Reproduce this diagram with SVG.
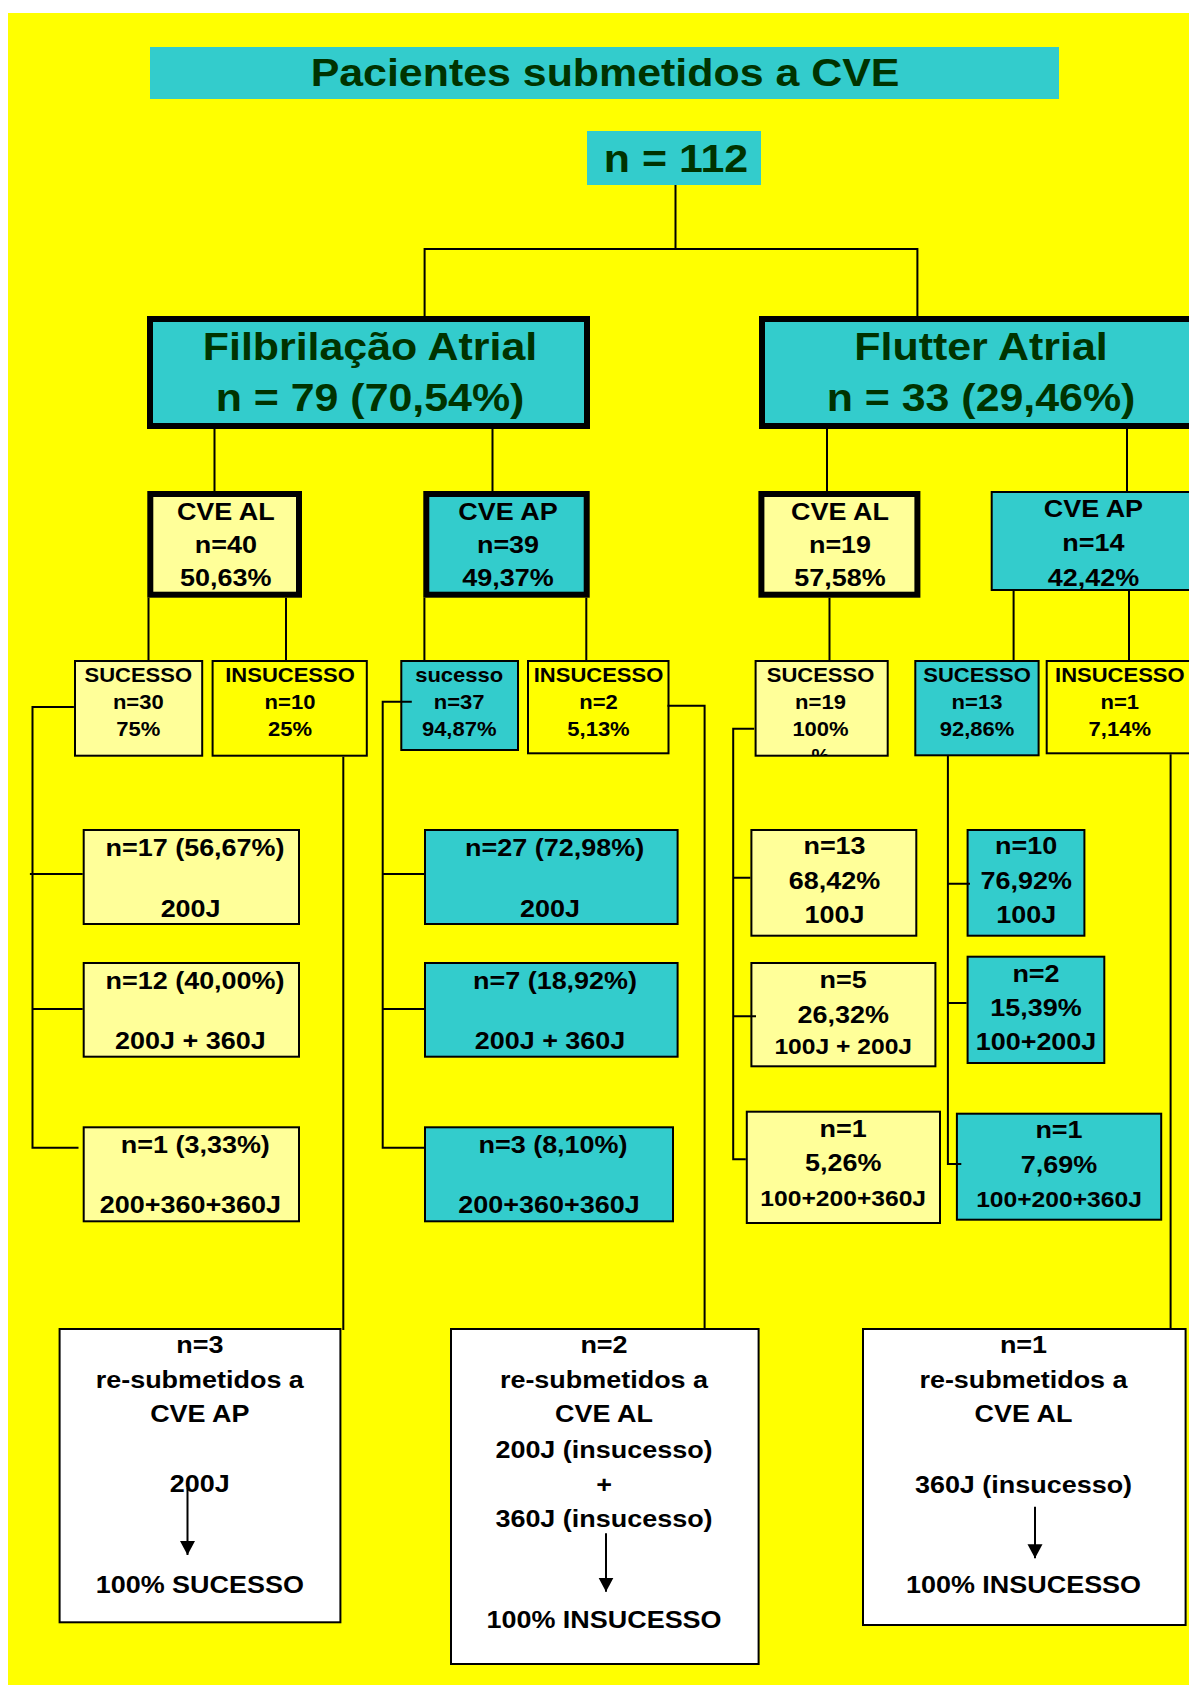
<svg xmlns="http://www.w3.org/2000/svg" width="1189" height="1685" viewBox="0 0 1189 1685">
<style>
.t{font-family:"Liberation Sans",Arial,sans-serif;font-weight:bold;text-anchor:middle;fill:#000}
.g{fill:#003300}
.s39{font-size:39px}.s245{font-size:24.5px}.s20{font-size:20px}.s22{font-size:22.4px}
.box{stroke:#000;stroke-width:2}
.thick{stroke:#000;stroke-width:6}
.tq{fill:#33CCCC}.ly{fill:#FFFF99}.yb{fill:#FFFF00}.wb{fill:#FFFFFF}
.c{fill:none;stroke:#000;stroke-width:2}
</style>
<defs>
<marker id="ah" markerUnits="userSpaceOnUse" markerWidth="16" markerHeight="16" refX="14" refY="7.5" orient="auto">
<path d="M0,0 L14,7.5 L0,15 z" fill="#000"/>
</marker>
<clipPath id="clipSuc"><rect x="756" y="662" width="131" height="93"/></clipPath>
</defs>
<rect x="0" y="0" width="1189" height="1685" fill="#FFFFFF"/>
<rect x="8" y="13" width="1181" height="1672" fill="#FFFF00"/>

<g id="title">
<rect x="150" y="47" width="909" height="52" class="tq"/>
<text class="t g s39" transform="translate(605 0) scale(1.1 1)" x="0" y="86">Pacientes submetidos a CVE</text>
</g>
<g id="n112">
<rect x="587" y="131" width="174" height="54" class="tq"/>
<text class="t g s39" transform="translate(676 0) scale(1.1 1)" x="0" y="172">n = 112</text>
</g>

<g id="fa">
<rect x="150" y="319" width="437" height="107" class="tq thick"/>
<text class="t g s39" transform="translate(370 0) scale(1.1 1)"><tspan x="0" y="360">Filbrilação Atrial</tspan><tspan x="0" y="411">n = 79 (70,54%)</tspan></text>
</g>
<g id="fl">
<rect x="762" y="319" width="450" height="107" class="tq thick"/>
<text class="t g s39" transform="translate(981 0) scale(1.1 1)"><tspan x="0" y="360">Flutter Atrial</tspan><tspan x="0" y="411">n = 33 (29,46%)</tspan></text>
</g>

<g id="fa-al">
<rect x="150.3" y="494" width="148.7" height="100.7" class="ly thick"/>
<text class="t s245" transform="translate(225.8 0) scale(1.1 1)"><tspan x="0" y="520">CVE AL</tspan><tspan x="0" y="553">n=40</tspan><tspan x="0" y="585.7">50,63%</tspan></text>
</g>
<g id="fa-ap">
<rect x="426.3" y="494" width="160.4" height="100.7" class="tq thick"/>
<text class="t s245" transform="translate(508 0) scale(1.1 1)"><tspan x="0" y="520">CVE AP</tspan><tspan x="0" y="553">n=39</tspan><tspan x="0" y="585.7">49,37%</tspan></text>
</g>
<g id="fl-al">
<rect x="761.4" y="494" width="156" height="100.7" class="ly thick"/>
<text class="t s245" transform="translate(840 0) scale(1.1 1)"><tspan x="0" y="520">CVE AL</tspan><tspan x="0" y="553">n=19</tspan><tspan x="0" y="585.7">57,58%</tspan></text>
</g>
<g id="fl-ap">
<rect x="991.7" y="492" width="220" height="98" class="tq box"/>
<text class="t s245" transform="translate(1093.4 0) scale(1.1 1)"><tspan x="0" y="516.7">CVE AP</tspan><tspan x="0" y="551">n=14</tspan><tspan x="0" y="585.7">42,42%</tspan></text>
</g>

<g id="fa-al-suc">
<rect x="75" y="661" width="127.2" height="94.7" class="ly box"/>
<text class="t s20" transform="translate(138.3 0) scale(1.1 1)"><tspan x="0" y="681.7">SUCESSO</tspan><tspan x="0" y="709">n=30</tspan><tspan x="0" y="736">75%</tspan></text>
</g>
<g id="fa-al-ins">
<rect x="212.6" y="661" width="154.2" height="94.7" class="yb box"/>
<text class="t s20" transform="translate(290 0) scale(1.1 1)"><tspan x="0" y="681.7">INSUCESSO</tspan><tspan x="0" y="709">n=10</tspan><tspan x="0" y="736">25%</tspan></text>
</g>
<g id="fa-ap-suc">
<rect x="401.3" y="661" width="116.7" height="89" class="tq box"/>
<text class="t s20" transform="translate(459.2 0) scale(1.1 1)"><tspan x="0" y="681.7">sucesso</tspan><tspan x="0" y="709">n=37</tspan><tspan x="0" y="736">94,87%</tspan></text>
</g>
<g id="fa-ap-ins">
<rect x="528" y="661" width="140.5" height="92.3" class="yb box"/>
<text class="t s20" transform="translate(598.5 0) scale(1.1 1)"><tspan x="0" y="681.7">INSUCESSO</tspan><tspan x="0" y="709">n=2</tspan><tspan x="0" y="736">5,13%</tspan></text>
</g>
<g id="fl-al-suc">
<rect x="755.6" y="661" width="132.1" height="94.7" class="ly box"/>
<text class="t s20" transform="translate(820.5 0) scale(1.1 1)"><tspan x="0" y="681.7">SUCESSO</tspan><tspan x="0" y="709">n=19</tspan><tspan x="0" y="736">100%</tspan></text>
<text class="t s20" clip-path="url(#clipSuc)" x="820.5" y="763">%</text>
</g>
<g id="fl-ap-suc">
<rect x="915.3" y="661" width="123.3" height="94.3" class="tq box"/>
<text class="t s20" transform="translate(977 0) scale(1.1 1)"><tspan x="0" y="681.7">SUCESSO</tspan><tspan x="0" y="709">n=13</tspan><tspan x="0" y="736">92,86%</tspan></text>
</g>
<g id="fl-ap-ins">
<rect x="1046.7" y="661" width="160" height="92.3" class="yb box"/>
<text class="t s20" transform="translate(1119.8 0) scale(1.1 1)"><tspan x="0" y="681.7">INSUCESSO</tspan><tspan x="0" y="709">n=1</tspan><tspan x="0" y="736">7,14%</tspan></text>
</g>

<g id="fa-al-200">
<rect x="83.7" y="830" width="215.3" height="94" class="ly box"/>
<text class="t s245" transform="translate(195 0) scale(1.1 1)" x="0" y="856">n=17 (56,67%)</text>
<text class="t s245" transform="translate(190.6 0) scale(1.1 1)" x="0" y="916.7">200J</text>
</g>
<g id="fa-al-200-360">
<rect x="83.7" y="963" width="215.3" height="93.7" class="ly box"/>
<text class="t s245" transform="translate(195 0) scale(1.1 1)" x="0" y="989.3">n=12 (40,00%)</text>
<text class="t s245" transform="translate(190.4 0) scale(1.1 1)" x="0" y="1049.3">200J + 360J</text>
</g>
<g id="fa-al-200-360-360">
<rect x="83.7" y="1127.3" width="215.3" height="94" class="ly box"/>
<text class="t s245" transform="translate(195.3 0) scale(1.1 1)" x="0" y="1153.3">n=1 (3,33%)</text>
<text class="t s245" transform="translate(190.4 0) scale(1.1 1)" x="0" y="1213.3">200+360+360J</text>
</g>

<g id="fa-ap-200">
<rect x="425" y="830" width="252.6" height="94" class="tq box"/>
<text class="t s245" transform="translate(554.6 0) scale(1.1 1)" x="0" y="856">n=27 (72,98%)</text>
<text class="t s245" transform="translate(550 0) scale(1.1 1)" x="0" y="916.7">200J</text>
</g>
<g id="fa-ap-200-360">
<rect x="425" y="963" width="252.6" height="93.7" class="tq box"/>
<text class="t s245" transform="translate(555 0) scale(1.1 1)" x="0" y="989.3">n=7 (18,92%)</text>
<text class="t s245" transform="translate(550 0) scale(1.1 1)" x="0" y="1049.3">200J + 360J</text>
</g>
<g id="fa-ap-200-360-360">
<rect x="425" y="1127.3" width="248" height="94" class="tq box"/>
<text class="t s245" transform="translate(553 0) scale(1.1 1)" x="0" y="1153.3">n=3 (8,10%)</text>
<text class="t s245" transform="translate(549 0) scale(1.1 1)" x="0" y="1213.3">200+360+360J</text>
</g>

<g id="fl-al-100">
<rect x="751.4" y="830" width="164.9" height="105.7" class="ly box"/>
<text class="t s245" transform="translate(834.5 0) scale(1.1 1)"><tspan x="0" y="854">n=13</tspan><tspan x="0" y="889.3">68,42%</tspan><tspan x="0" y="923.3">100J</tspan></text>
</g>
<g id="fl-al-100-200">
<rect x="751.4" y="963" width="184" height="103.3" class="ly box"/>
<text class="t s245" transform="translate(843.2 0) scale(1.1 1)"><tspan x="0" y="988.3">n=5</tspan><tspan x="0" y="1022.7">26,32%</tspan></text>
<text class="t s22" transform="translate(843.2 0) scale(1.1 1)" x="0" y="1054">100J + 200J</text>
</g>
<g id="fl-al-100-200-360">
<rect x="746.8" y="1111.7" width="193.2" height="111.3" class="ly box"/>
<text class="t s245" transform="translate(843.2 0) scale(1.1 1)"><tspan x="0" y="1136.7">n=1</tspan><tspan x="0" y="1170.7">5,26%</tspan></text>
<text class="t s22" transform="translate(843.2 0) scale(1.1 1)" x="0" y="1206">100+200+360J</text>
</g>

<g id="fl-ap-100">
<rect x="967.6" y="830" width="116.8" height="105.7" class="tq box"/>
<text class="t s245" transform="translate(1026.2 0) scale(1.1 1)"><tspan x="0" y="854">n=10</tspan><tspan x="0" y="889.3">76,92%</tspan><tspan x="0" y="923.3">100J</tspan></text>
</g>
<g id="fl-ap-100-200">
<rect x="967.6" y="956.7" width="136.7" height="106.3" class="tq box"/>
<text class="t s245" transform="translate(1036 0) scale(1.1 1)"><tspan x="0" y="981.7">n=2</tspan><tspan x="0" y="1016">15,39%</tspan><tspan x="0" y="1050">100+200J</tspan></text>
</g>
<g id="fl-ap-100-200-360">
<rect x="956.9" y="1113.7" width="204.3" height="106" class="tq box"/>
<text class="t s245" transform="translate(1059 0) scale(1.1 1)"><tspan x="0" y="1138.3">n=1</tspan><tspan x="0" y="1173.3">7,69%</tspan></text>
<text class="t s22" transform="translate(1059 0) scale(1.1 1)" x="0" y="1207.3">100+200+360J</text>
</g>

<g id="re-ap">
<rect x="59.6" y="1329" width="280.8" height="293.3" class="wb box"/>
<text class="t s245" transform="translate(199.8 0) scale(1.1 1)"><tspan x="0" y="1353.3">n=3</tspan><tspan x="0" y="1388.3">re-submetidos a</tspan><tspan x="0" y="1422.3">CVE AP</tspan><tspan x="0" y="1491.7">200J</tspan><tspan x="0" y="1593.3">100% SUCESSO</tspan></text>
</g>
<g id="re-al-fa">
<rect x="451" y="1329" width="307.6" height="335" class="wb box"/>
<text class="t s245" transform="translate(604 0) scale(1.1 1)"><tspan x="0" y="1353.3">n=2</tspan><tspan x="0" y="1388.3">re-submetidos a</tspan><tspan x="0" y="1422.3">CVE AL</tspan><tspan x="0" y="1458">200J (insucesso)</tspan><tspan x="0" y="1493">+</tspan><tspan x="0" y="1526.7">360J (insucesso)</tspan><tspan x="0" y="1628.3">100% INSUCESSO</tspan></text>
</g>
<g id="re-al-fl">
<rect x="863" y="1329" width="322.6" height="296" class="wb box"/>
<text class="t s245" transform="translate(1023.5 0) scale(1.1 1)"><tspan x="0" y="1353.3">n=1</tspan><tspan x="0" y="1388.3">re-submetidos a</tspan><tspan x="0" y="1422.3">CVE AL</tspan><tspan x="0" y="1493.3">360J (insucesso)</tspan><tspan x="0" y="1593.3">100% INSUCESSO</tspan></text>
</g>

<g id="connectors" class="c">
<path d="M675.5,185 V250"/>
<path d="M424.6,316 V249 H917.4 V316"/>
<path d="M214.5,429 V491 M492.5,429 V491"/>
<path d="M827,429 V491 M1127,429 V491"/>
<path d="M148.5,597.7 V660 M286,597.7 V660"/>
<path d="M424.4,597.7 V660 M586.3,597.7 V660"/>
<path d="M829.5,597.7 V660"/>
<path d="M1013.6,591 V660 M1129,591 V660"/>
<path d="M73.9,707 H32.5 V1147.7 H78.5 M29.9,874 H82.7 M32.5,1009 H82.7"/>
<path d="M343.3,756.7 V1330"/>
<path d="M411.8,701.7 H382.7 V1147.7 H424 M382.7,874 H424 M382.7,1009 H424"/>
<path d="M667.5,705.7 H704.6 V1330"/>
<path d="M754.2,728.7 H733.2 V1159.3 H745.8 M733.2,877.7 H750.4 M733.2,1016.3 H756"/>
<path d="M947.9,756 V1164 H961.3 M947.9,883.7 H970 M947.9,1003 H966.6"/>
<path d="M1170.6,754.3 V1330"/>
<path d="M187.5,1488 V1555" marker-end="url(#ah)"/>
<path d="M606,1533.3 V1591.7" marker-end="url(#ah)"/>
<path d="M1035,1506.7 V1558.3" marker-end="url(#ah)"/>
</g>
</svg>
